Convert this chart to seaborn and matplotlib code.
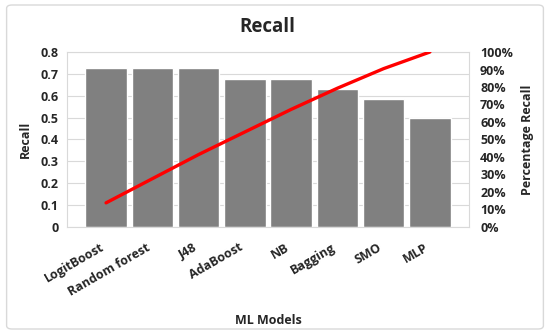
"""Recall per ML model: bars plus cumulative percentage line (Pareto style)."""

import matplotlib.pyplot as plt
import matplotlib.transforms as mtransforms
import numpy as np
import pandas as pd
import seaborn as sns
from matplotlib.patches import FancyBboxPatch
from matplotlib.ticker import FuncFormatter, MultipleLocator

models = ["LogitBoost", "Random forest", "J48", "AdaBoost", "NB", "Bagging", "SMO", "MLP"]
recall = [0.725, 0.725, 0.725, 0.678, 0.678, 0.632, 0.587, 0.50]
cumulative_pct = [13.8, 27.6, 41.4, 54.3, 67.2, 79.3, 90.5, 100.0]

sns.set_style("white")
plt.rcParams["font.family"] = ["Open Sans", "DejaVu Sans"]
plt.rcParams["font.weight"] = "bold"

df = pd.DataFrame({"model": models, "recall": recall})

fig = plt.figure(figsize=(5.5, 3.34), dpi=100)
ax = fig.add_axes([0.1218, 0.3204, 0.7309, 0.5239])

sns.barplot(data=df, x="model", y="recall", color="#808080", saturation=1,
            width=0.9, ax=ax, zorder=2)
ax.set_ylim(0, 0.8)
ax.yaxis.set_major_locator(MultipleLocator(0.1))
ax.yaxis.set_major_formatter(FuncFormatter(lambda v, _: "0" if v == 0 else f"{v:.1f}"))
ax.grid(axis="y", color="#d9d9d9", lw=0.8, zorder=0)
ax.set_axisbelow(True)
for s in ax.spines.values():
    s.set_color("#d9d9d9")
    s.set_linewidth(0.8)
ax.tick_params(axis="y", length=0, labelsize=9, pad=6)
ax.tick_params(axis="x", length=0, labelsize=9, pad=10)
ax.set_xticks(range(len(models)))
ax.set_xticklabels(models, rotation=30, ha="right", rotation_mode="anchor",
                   fontweight="bold")
# nudge rotated labels a bit left so they end under the bar centre
shift = mtransforms.ScaledTranslation(-6 / 100, 0, fig.dpi_scale_trans)
for t in ax.get_xticklabels():
    t.set_transform(t.get_transform() + shift)
for t in ax.get_yticklabels():
    t.set_fontweight("bold")
ax.set_xlabel("ML Models", fontsize=9, fontweight="bold", labelpad=11)
ax.set_ylabel("Recall", fontsize=9, fontweight="bold", labelpad=6)

ax2 = ax.twinx()
sns.lineplot(x=np.arange(len(models)), y=cumulative_pct, color="#ff0000",
             lw=2.4, ax=ax2)
ax2.set_ylim(0, 100)
ax2.yaxis.set_major_locator(MultipleLocator(10))
ax2.yaxis.set_major_formatter(FuncFormatter(lambda v, _: f"{v:.0f}%"))
ax2.tick_params(axis="y", length=0, labelsize=9, pad=8)
for t in ax2.get_yticklabels():
    t.set_fontweight("bold")
for s in ax2.spines.values():
    s.set_visible(False)
ax2.set_ylabel("Percentage Recall", fontsize=9, fontweight="bold", labelpad=6)

fig.suptitle("Recall", x=0.487, y=0.95, fontsize=13.5, fontweight="bold")

fig.patches.append(FancyBboxPatch((0.012, 0.015), 0.976, 0.97,
                                  boxstyle="round,pad=0,rounding_size=0.01",
                                  transform=fig.transFigure, fill=False,
                                  edgecolor="#d9d9d9", lw=1))

fig.savefig("out.png", dpi=100)
